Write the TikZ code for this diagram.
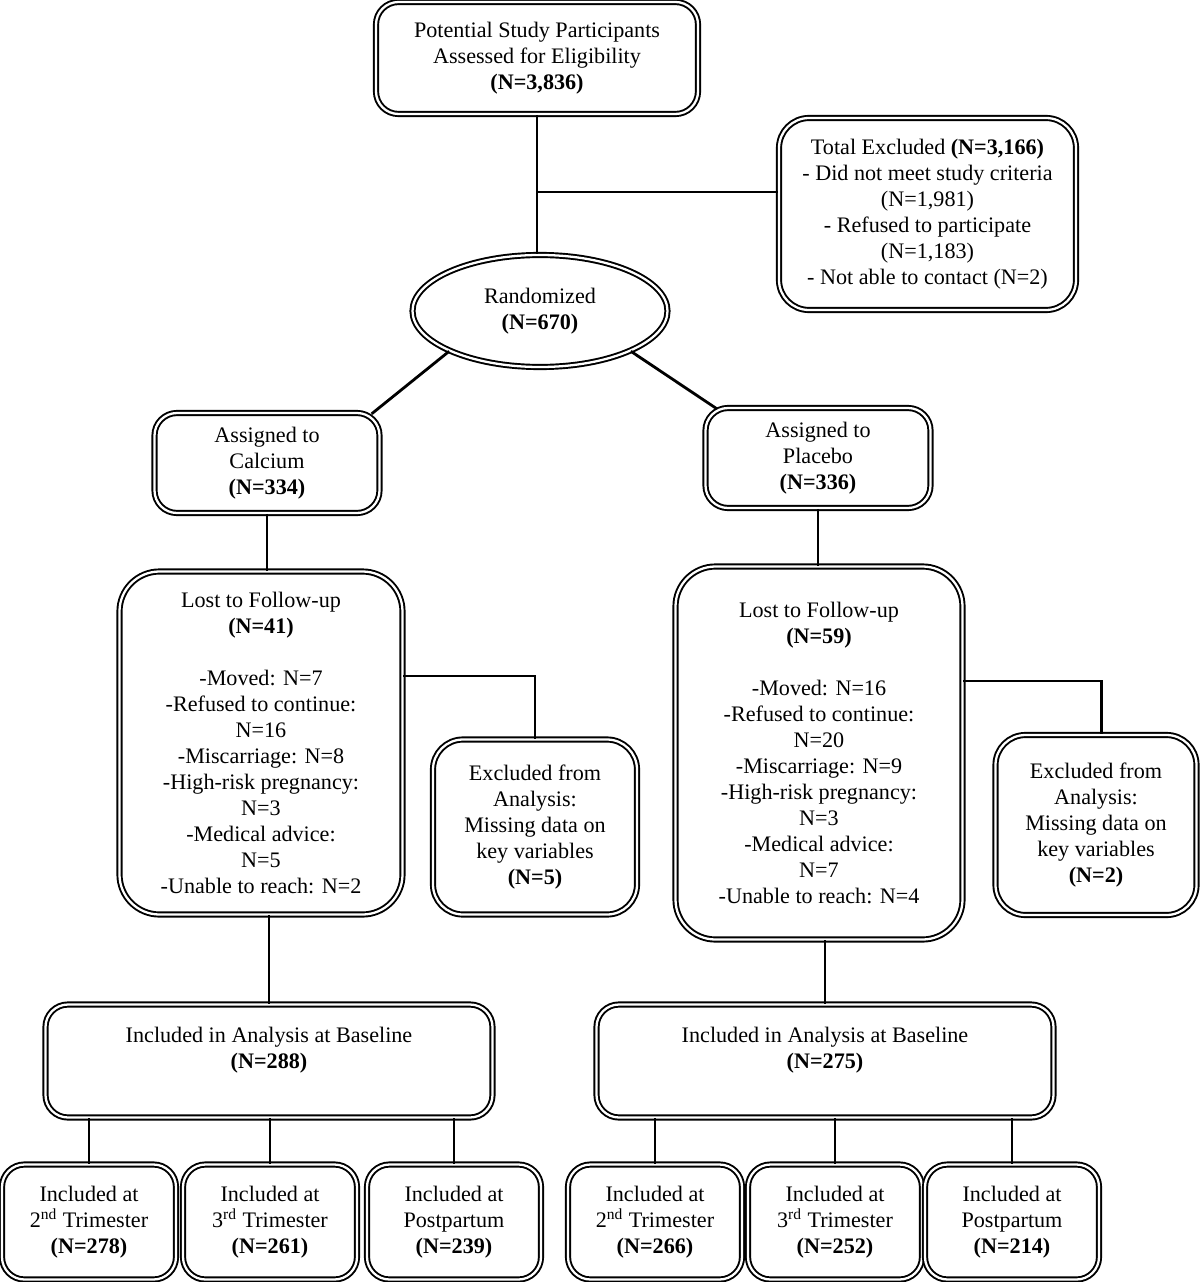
\documentclass[tikz,border=0pt]{standalone}
\usepackage{fontspec}
\setmainfont{Liberation Serif}
\usetikzlibrary{shapes}
\tikzstyle{box} = [rectangle, rounded corners=0.45cm, draw=black, double, double distance=1.3pt, line width=1.1pt, align=center, inner sep=2pt]
\tikzstyle{oval} = [ellipse, draw=black, double, double distance=1.3pt, line width=1.1pt, align=center, inner sep=0pt]
\tikzstyle{link} = [line width=1.6pt]

\begin{document}
\begin{tikzpicture}[font=\fontsize{12.6}{14.8}\selectfont]
    \useasboundingbox (0,0) rectangle (24,-25.64);
    % top of the chart
    \node[box, minimum width=6.44cm, minimum height=2.24cm] (elig) at (10.74,-1.16) {Potential Study Participants\\Assessed for Eligibility\\\textbf{(N=3,836)}};
    \node[box, rounded corners=0.6cm, minimum width=5.94cm, minimum height=3.84cm] (excl) at (18.55,-4.28) {Total Excluded \textbf{(N=3,166)}\\- Did not meet study criteria\\(N=1,981)\\- Refused to participate\\(N=1,183)\\- Not able to contact (N=2)};
    \node[oval, minimum width=5.1cm, minimum height=2.24cm] (rand) at (10.8,-6.22) {Randomized\\\textbf{(N=670)}};

    % the two arms
    \node[box, minimum width=4.5cm, minimum height=2.0cm] (calc) at (5.34,-9.26) {Assigned to\\Calcium\\\textbf{(N=334)}};
    \node[box, minimum width=4.5cm, minimum height=2.0cm] (plac) at (16.36,-9.16) {Assigned to\\Placebo\\\textbf{(N=336)}};

    \node[box, rounded corners=0.8cm, minimum width=5.66cm, minimum height=6.86cm] (lostC) at (5.22,-14.86) {Lost to Follow-up\\\textbf{(N=41)}\\[14.8pt]-Moved: N=7\\-Refused to continue:\\N=16\\-Miscarriage: N=8\\-High-risk pregnancy:\\N=3\\-Medical advice:\\N=5\\-Unable to reach: N=2};
    \node[box, rounded corners=0.6cm, minimum width=4.08cm, minimum height=3.5cm] (exC) at (10.7,-16.54) {Excluded from\\Analysis:\\Missing data on\\key variables\\\textbf{(N=5)}};
    \node[box, rounded corners=0.8cm, minimum width=5.74cm, minimum height=7.46cm] (lostP) at (16.38,-15.06) {Lost to Follow-up\\\textbf{(N=59)}\\[14.8pt]-Moved: N=16\\-Refused to continue:\\N=20\\-Miscarriage: N=9\\-High-risk pregnancy:\\N=3\\-Medical advice:\\N=7\\-Unable to reach: N=4};
    \node[box, rounded corners=0.6cm, minimum width=4.02cm, minimum height=3.6cm] (exP) at (21.92,-16.5) {Excluded from\\Analysis:\\Missing data on\\key variables\\\textbf{(N=2)}};

    \node[box, minimum width=8.94cm, minimum height=2.26cm] (baseC) at (5.38,-21.22) {Included in Analysis at Baseline\\\textbf{(N=288)}\\\mbox{}};
    \node[box, minimum width=9.14cm, minimum height=2.26cm] (baseP) at (16.5,-21.22) {Included in Analysis at Baseline\\\textbf{(N=275)}\\\mbox{}};

    % bottom row
    \node[box, minimum width=3.48cm, minimum height=2.3cm] (c2) at (1.78,-24.44) {Included at\\2\textsuperscript{nd} Trimester\\\textbf{(N=278)}};
    \node[box, minimum width=3.48cm, minimum height=2.3cm] (c3) at (5.4,-24.44) {Included at\\3\textsuperscript{rd} Trimester\\\textbf{(N=261)}};
    \node[box, minimum width=3.48cm, minimum height=2.3cm] (cp) at (9.08,-24.44) {Included at\\Postpartum\\\textbf{(N=239)}};
    \node[box, minimum width=3.48cm, minimum height=2.3cm] (p2) at (13.1,-24.44) {Included at\\2\textsuperscript{nd} Trimester\\\textbf{(N=266)}};
    \node[box, minimum width=3.48cm, minimum height=2.3cm] (p3) at (16.7,-24.44) {Included at\\3\textsuperscript{rd} Trimester\\\textbf{(N=252)}};
    \node[box, minimum width=3.48cm, minimum height=2.3cm] (pp) at (20.24,-24.44) {Included at\\Postpartum\\\textbf{(N=214)}};

    % connectors
    \draw[link] (elig.south) -- (elig.south |- rand.north);
    \coordinate (jx) at (10.76,-3.84);
    \draw[link] (jx) -- (jx -| excl.west);
    \draw[link] (rand.south west) -- ([xshift=-5pt,yshift=-1pt]calc.north east);
    \draw[link] (rand.south east) -- ([xshift=7pt,yshift=-1pt]plac.north west);
    \draw[link] (calc.south) -- (calc.south |- lostC.north);
    \draw[link] (plac.south) -- (plac.south |- lostP.north);
    \coordinate (jc) at ([yshift=1.34cm]lostC.east);
    \draw[link] (jc) -| (exC.north);
    \coordinate (jp) at ([yshift=1.44cm]lostP.east);
    \draw[link] (jp) -| ([xshift=3pt]exP.north);
    \draw[link] (baseC.north) -- (baseC.north |- lostC.south);
    \draw[link] (baseP.north) -- (baseP.north |- lostP.south);
    \foreach \b/\base in {c2/baseC,c3/baseC,cp/baseC,p2/baseP,p3/baseP,pp/baseP}
        \draw[link] (\b.north) -- (\b.north |- \base.south);
\end{tikzpicture}
\end{document}
